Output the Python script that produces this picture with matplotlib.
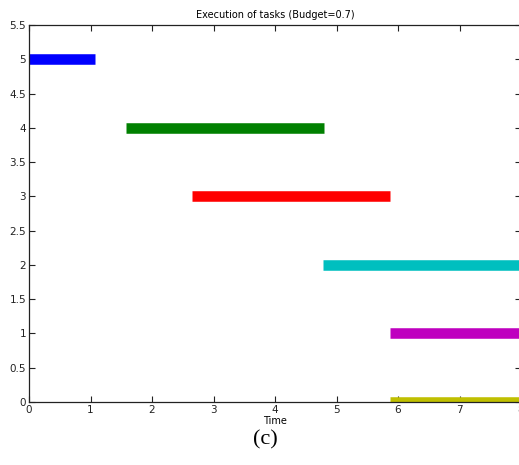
import matplotlib
matplotlib.use("Agg")
import matplotlib.pyplot as plt

tasks = [5, 4, 3, 2, 1, 0]
starts = [0.0, 1.58, 2.65, 4.78, 5.87, 5.87]
ends = [1.07, 4.80, 5.87, 8.0, 8.0, 8.0]
colors = [(0, 0, 1), (0, 0.5, 0), (1, 0, 0), (0, 0.75, 0.75), (0.75, 0, 0.75), (0.75, 0.75, 0)]
xticks = [0, 1, 2, 3, 4, 5, 6, 7, 8]
yticks = [0, 0.5, 1, 1.5, 2, 2.5, 3, 3.5, 4, 4.5, 5, 5.5]
ytick_labels = ["0", "0.5", "1", "1.5", "2", "2.5", "3", "3.5", "4", "4.5", "5", "5.5"]

W, H = 519, 465
fig = plt.figure(figsize=(W / 100, H / 100), dpi=100)
left, right, top, bottom = 29, 521, 25, 402
ax = fig.add_axes([left / W, (H - bottom) / H, (right - left) / W, (bottom - top) / H])

for y, s, e, c in zip(tasks, starts, ends, colors):
    ax.plot([s, e], [y, y], color=c, linewidth=7.6, solid_capstyle="butt")

ax.set_xlim(0, 8)
ax.set_ylim(0, 5.5)
ax.set_xticks(xticks)
ax.set_xticklabels([str(t) for t in xticks])
ax.set_yticks(yticks)
ax.set_yticklabels(ytick_labels)
ax.tick_params(direction="in", top=True, right=True, length=4, width=0.8,
               labelsize=7.5, colors="#222222", pad=2)
for sp in ax.spines.values():
    sp.set_linewidth(0.9)
    sp.set_color("#222222")
ax.set_xlabel("Time", fontsize=7, labelpad=1)
ax.set_title("Execution of tasks (Budget=0.7)", fontsize=7, pad=5)

fig.text(265 / W, 1 - 440 / H, "(c)", ha="center", va="center",
         fontsize=16, family="Liberation Serif")

fig.savefig("out.png", dpi=100)
